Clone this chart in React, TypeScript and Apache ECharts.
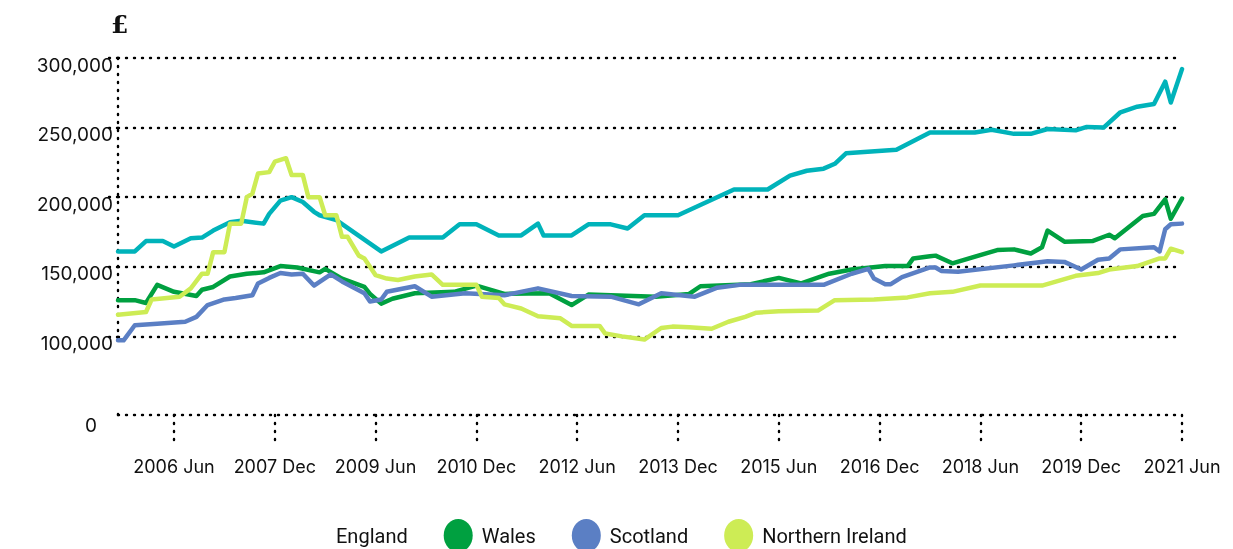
import React, { useEffect, useRef } from "react";
import * as echarts from "echarts";

const MONTH_NAMES = ["Jan", "Feb", "Mar", "Apr", "May", "Jun", "Jul", "Aug", "Sep", "Oct", "Nov", "Dec"];
const START_YEAR = 2005;
const START_MONTH = 7; // August
const MONTH_COUNT = 191; // Aug 2005 .. Jun 2021
const months: string[] = [];
for (let i = 0; i < MONTH_COUNT; i++) {
  const m = START_MONTH + i;
  months.push(`${START_YEAR + Math.floor(m / 12)} ${MONTH_NAMES[m % 12]}`);
}

const seriesNames = ["England", "Wales", "Scotland", "Northern Ireland"];
const seriesColors = ["#00b3ba", "#00a040", "#5b7fc4", "#cdec55"];

// [month index from Aug 2005, average price £]
const england: [number, number][] = [
  [0, 161000], [3, 161000], [5, 168500], [8, 168500], [10, 164500], [13, 170500], [15, 171000], [17, 176000],
  [20, 182000], [22, 183000], [26, 181000], [27, 188000], [29, 197500], [31, 200000], [33, 196500], [35, 189500],
  [36, 187000], [39, 183500], [47, 161000], [52, 171000], [58, 171000], [61, 180500], [64, 180500], [68, 172500],
  [72, 172500], [75, 181000], [76, 172500], [81, 172500], [84, 180500], [88, 180500], [91, 177500], [94, 187000],
  [100, 187000], [110, 205500], [116, 205500], [120, 215500], [123, 219000], [126, 220500], [128, 224000],
  [130, 231500], [139, 234000], [145, 246500], [153, 246500], [156, 248500], [160, 245500], [163, 245500],
  [166, 249000], [171, 248000], [173, 250500], [176, 250000], [179, 261000], [182, 265000], [185, 267000],
  [187, 283000], [188, 268000], [190, 292000],
];

const wales: [number, number][] = [
  [0, 126000], [3, 126000], [5, 124000], [7, 137000], [10, 132000], [14, 129000], [15, 133500], [17, 135500],
  [20, 143000], [23, 145000], [26, 146000], [29, 150500], [32, 149500], [36, 146000], [37, 148500], [40, 141500],
  [44, 135500], [45, 130500], [47, 123500], [49, 127000], [51, 129000], [53, 131000], [60, 132000], [64, 136500],
  [69, 130500], [77, 131000], [81, 122500], [84, 130000], [96, 128500], [102, 130500], [104, 136000],
  [113, 137500], [118, 142000], [122, 138000], [127, 145000], [131, 148000], [137, 150500], [141, 150500],
  [142, 156000], [145, 157500], [146, 158000], [149, 152500], [157, 162000], [160, 162500], [163, 159500],
  [165, 164000], [166, 176000], [169, 168000], [174, 168500], [177, 173000], [178, 170500], [183, 186500],
  [185, 188000], [187, 198500], [188, 184500], [190, 199000],
];

const scotland: [number, number][] = [
  [0, 96500], [1, 96500], [3, 108000], [7, 109000], [12, 110500], [14, 114000], [16, 122500], [19, 126500],
  [21, 127500], [24, 129500], [25, 138000], [27, 142000], [29, 145500], [31, 144500], [33, 145000], [35, 136500],
  [38, 144500], [40, 139500], [44, 131000], [45, 125000], [47, 126500], [48, 132000], [53, 136000], [56, 128500],
  [62, 131000], [69, 129500], [75, 134500], [81, 129000], [88, 128500], [93, 123000], [97, 131000],
  [103, 128500], [107, 135000], [111, 137000], [126, 137000], [131, 145000], [134, 148500], [135, 141500],
  [137, 137500], [138, 137500], [140, 142500], [145, 149500], [146, 149500], [147, 147000], [150, 146500],
  [160, 151000], [166, 154000], [169, 153500], [172, 148000], [175, 155000], [177, 156000], [179, 162500],
  [185, 164000], [186, 161000], [187, 177000], [188, 180500], [190, 181000],
];

const northernIreland: [number, number][] = [
  [0, 115500], [5, 117500], [6, 126500], [11, 128500], [13, 134500], [15, 145000], [16, 145000], [17, 160500],
  [19, 160500], [20, 181000], [22, 181000], [23, 200000], [24, 202500], [25, 217000], [27, 218000], [28, 225500],
  [30, 228000], [31, 216000], [33, 216000], [34, 200000], [36, 200000], [37, 187000], [39, 187000], [40, 171500],
  [41, 171500], [43, 158000], [44, 156000], [46, 144000], [48, 141500], [50, 140500], [53, 143000], [56, 144500],
  [58, 137000], [64, 137000], [65, 128500], [68, 127500], [69, 123000], [72, 120000], [75, 114500], [79, 113000],
  [81, 107500], [86, 107500], [87, 102000], [90, 100000], [94, 97500], [97, 106000], [99, 107000], [102, 106500],
  [106, 105500], [109, 110500], [112, 114000], [114, 117000], [118, 118000], [125, 118500], [128, 126000],
  [135, 126500], [141, 128000], [145, 131000], [147, 131500], [149, 132000], [154, 136500], [165, 136500],
  [171, 143500], [175, 145500], [177, 148000], [182, 150500], [186, 156000], [187, 156000], [188, 163000],
  [190, 160500],
];

const seriesData = [england, wales, scotland, northernIreland];
const yTicks = [100000, 150000, 200000, 250000, 300000];
const yLabels = [0, 100000, 150000, 200000, 250000, 300000];
const FIRST_LABEL_INDEX = 10; // 2006 Jun
const LABEL_STEP = 18;

const dotted = { color: "#000", width: 2.4, type: [1, 7] as number[], cap: "round" as const };

export default function App() {
  const ref = useRef<HTMLDivElement>(null);
  useEffect(() => {
    if (!ref.current) return;
    const chart = echarts.init(ref.current, undefined, { renderer: "svg" });
    const showIdx = (i: number) => i >= FIRST_LABEL_INDEX && (i - FIRST_LABEL_INDEX) % LABEL_STEP === 0;
    chart.setOption({
      animation: false,
      title: {
        text: "£",
        left: 106,
        top: 7,
        textStyle: { fontFamily: "DejaVu Serif", fontSize: 25, fontWeight: "bold", color: "#111" },
      },
      grid: { left: 118, right: 51, top: 58, bottom: 134 },
      legend: {
        left: 293,
        top: 514,
        itemWidth: 29,
        itemHeight: 33,
        itemGap: 36,
        icon: "path://M14.5,0 A14.5,16.5 0 1,1 14.5,33 A14.5,16.5 0 1,1 14.5,0 Z",
        textStyle: { fontFamily: "Roboto", fontSize: 20, color: "#111", padding: [14, 0, 0, 4] },
        data: [{ name: "England", icon: "none" }, "Wales", "Scotland", "Northern Ireland"],
      },
      xAxis: {
        type: "category",
        data: months,
        boundaryGap: false,
        axisLine: { show: true, lineStyle: dotted },
        axisTick: { show: true, length: 25, interval: (i: number) => showIdx(i), lineStyle: dotted },
        axisLabel: {
          interval: (i: number) => showIdx(i),
          margin: 42,
          fontFamily: "Inter",
          fontSize: 18,
          color: "#111",
        },
        splitLine: { show: false },
      },
      yAxis: {
        type: "value",
        min: 0,
        max: 300000,
        interval: 50000,
        breaks: [{ start: 2000, end: 98000, gap: 52500 }],
        breakArea: { show: false },
        axisLine: { show: true, lineStyle: dotted },
        axisTick: { show: true, length: 12, lineStyle: dotted, customValues: yTicks },
        axisLabel: {
          customValues: yLabels,
          hideOverlap: false,
          margin: 5,
          fontFamily: "Inter",
          fontSize: 19,
          color: "#111",
          padding: [14, 0, 0, 0],
          formatter: (v: number) => {
            if (v === 0) return "{z|0}";
            return v.toLocaleString("en-GB");
          },
          rich: { z: { fontFamily: "Inter", fontSize: 19, color: "#111", padding: [6, 16, 0, 0] } },
        },
        splitLine: { show: true, lineStyle: dotted },
      },
      series: seriesNames.map((name, k) => ({
        name,
        type: "line",
        data: seriesData[k],
        showSymbol: false,
        symbol: "none",
        color: seriesColors[k],
        lineStyle: { width: 4.5, color: seriesColors[k], join: "round", cap: "round" },
      })),
    });
    return () => chart.dispose();
  }, []);
  return <div ref={ref} style={{ position: "fixed", left: 0, top: 0, width: 1233, height: 549 }} />;
}
